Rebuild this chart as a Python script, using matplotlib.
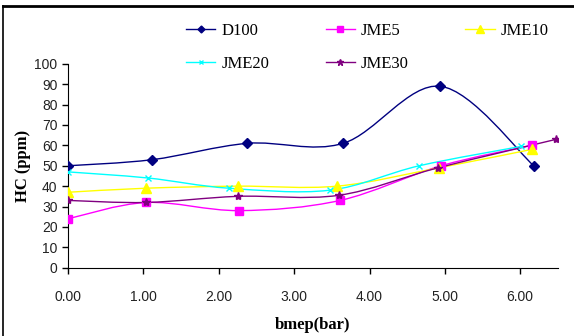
import matplotlib.pyplot as plt
from matplotlib.path import Path
from matplotlib.patches import PathPatch
from matplotlib.lines import Line2D

# data
d100_x = [0.00, 1.12, 2.38, 3.65, 4.94, 6.18]
d100_y = [50, 53, 61, 61, 89, 50]
jme5_x = [0.00, 1.04, 2.27, 3.61, 4.95, 6.15]
jme5_y = [24, 32, 28, 33, 50, 60]
jme10_x = [0.00, 1.04, 2.25, 3.57, 4.92, 6.15]
jme10_y = [37, 39, 40, 40, 49, 58]
jme20_x = [0.00, 1.06, 2.13, 3.47, 4.66, 6.01]
jme20_y = [47, 44, 39, 38, 50, 59.5]
jme30_x = [0.00, 1.04, 2.25, 3.59, 4.91, 6.48]
jme30_y = [33, 32, 35, 35.5, 49, 63]

x_ticks = [0, 1, 2, 3, 4, 5, 6]
y_ticks = [0, 10, 20, 30, 40, 50, 60, 70, 80, 90, 100]


def smooth_path(xs, ys):
    # Excel-style smoothed line: cubic bezier through the points
    pts = list(zip(xs, ys))
    verts = [pts[0]]
    codes = [Path.MOVETO]
    n = len(pts)
    for i in range(n - 1):
        p0 = pts[i - 1] if i > 0 else pts[i]
        p1 = pts[i]
        p2 = pts[i + 1]
        p3 = pts[i + 2] if i + 2 < n else pts[i + 1]
        c1 = (p1[0] + (p2[0] - p0[0]) / 6, p1[1] + (p2[1] - p0[1]) / 6)
        c2 = (p2[0] - (p3[0] - p1[0]) / 6, p2[1] - (p3[1] - p1[1]) / 6)
        verts += [c1, c2, p2]
        codes += [Path.CURVE4] * 3
    return Path(verts, codes)


series = [
    ("D100", d100_x, d100_y, "#000080", "D", 5),
    ("JME5", jme5_x, jme5_y, "#FF00FF", "s", 6),
    ("JME10", jme10_x, jme10_y, "#FFFF00", "^", 7),
    ("JME20", jme20_x, jme20_y, "#00FFFF", "x", 5),
    ("JME30", jme30_x, jme30_y, "#800080", "*", 6),
]

fig = plt.figure(figsize=(5.74, 3.36), dpi=100)
ax = fig.add_axes([0.1185, 0.2033, 0.972 - 0.1185, 0.81 - 0.2033])

handles = []
for name, xs, ys, color, marker, ms in series:
    ax.add_patch(PathPatch(smooth_path(xs, ys), facecolor="none",
                           edgecolor=color, lw=1.0, zorder=2))
    ax.plot(xs, ys, ls="none", marker=marker, color=color, ms=ms, zorder=3)
    handles.append(Line2D([], [], color=color, marker=marker, ms=ms - 1.5, lw=1.0))

ax.set_xlim(0, 6.5)
ax.set_ylim(0, 100)
ax.set_xticks(x_ticks)
ax.set_xticklabels([f"{t:.2f}" for t in x_ticks])
ax.set_yticks(y_ticks)
ax.spines["top"].set_visible(False)
ax.spines["right"].set_visible(False)
ax.tick_params(direction="out", length=4, width=1, labelsize=10)
ax.tick_params(axis="x", pad=12)
for lab in ax.get_xticklabels() + ax.get_yticklabels():
    lab.set_family("Liberation Sans")
    lab.set_color("#222222")

ax.set_xlabel("bmep(bar)", family="Liberation Serif", weight="bold", fontsize=12)
ax.set_ylabel("HC (ppm)", family="Liberation Serif", weight="bold", fontsize=12)
ax.xaxis.set_label_coords(0.5, -0.24)
ax.yaxis.set_label_coords(-0.075, 0.5)

# legend fills row by row in the reference: reorder for matplotlib's column fill
order = [0, 3, 1, 4, 2]
names = [s[0] for s in series]
fig.legend([handles[i] for i in order], [names[i] for i in order], ncol=3,
           frameon=False, loc="upper left", bbox_to_anchor=(0.324, 0.932),
           borderpad=0, borderaxespad=0,
           prop={"family": "Liberation Serif", "size": 12},
           handlelength=1.75, columnspacing=3.4, handletextpad=0.36,
           labelspacing=1.0)

# outer chart frame (left and top edges)
fig.add_artist(Line2D([0.006, 0.006], [0, 0.982], color="black", lw=1.2,
                      transform=fig.transFigure))
fig.add_artist(Line2D([0.006, 1.0], [0.982, 0.982], color="black", lw=2.0,
                      transform=fig.transFigure))

fig.savefig("out.png", dpi=100)
